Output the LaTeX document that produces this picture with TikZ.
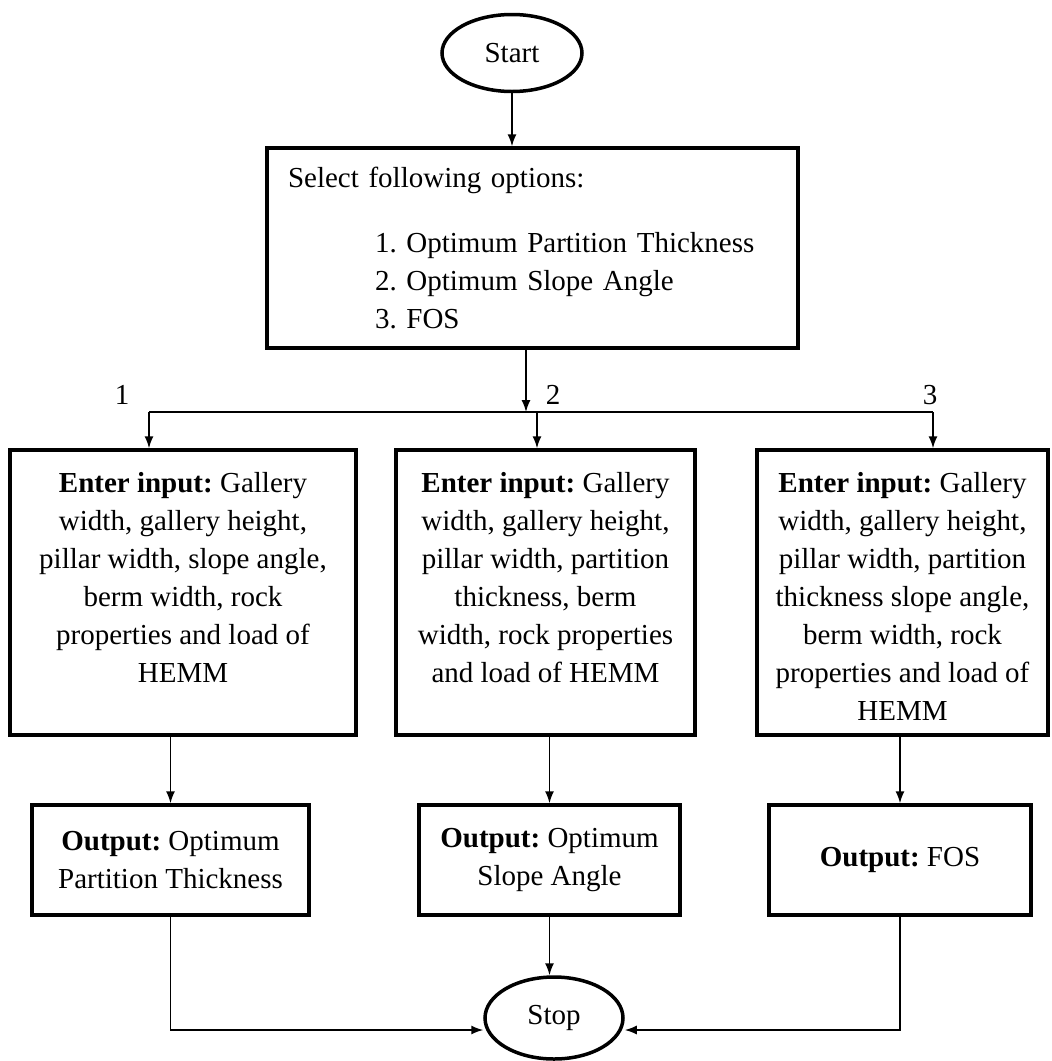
\documentclass[tikz,border=0pt]{standalone}
\usepackage{fontspec}
\setmainfont{Liberation Serif}
\usetikzlibrary{shapes.geometric,arrows.meta}
\newcommand{\boxtext}[2]{\parbox[c][241pt][t]{#1}{\centering #2}}
\frenchspacing
\begin{document}
\begin{tikzpicture}[x=1pt,y=-1pt]
	\tikzset{n/.style={draw=black, ellipse, line width=3.5pt, minimum width=140pt, minimum height=77pt, inner sep=0pt},
		b/.style={draw=black, rectangle, line width=3.5pt, inner sep=0pt},
		f/.style={-{Latex[length=12pt,width=9pt]}, line width=1.5pt},
		every node/.style={font=\fontsize{29}{38}\selectfont}};
	\useasboundingbox (0,0) rectangle (1052,1061);

	\node[n] (start) at (512,53) {Start};
	\node[b, minimum width=531pt, minimum height=200pt, text width=489pt, inner xsep=21pt, align=left] (sel) at (532.5,248)
		{Select following options:\\[27pt]
		\hspace*{87pt}1. Optimum Partition Thickness\\
		\hspace*{87pt}2. Optimum Slope Angle\\
		\hspace*{87pt}3. FOS};

	\node (l1) at (122,395) {1};
	\node (l2) at (553,395) {2};
	\node (l3) at (930,395) {3};

	\node[b, minimum width=346pt, minimum height=285pt] (in1) at (183,592.5)
		{\boxtext{336pt}{\textbf{Enter input:} Gallery\\ width, gallery height,\\ pillar width, slope angle,\\ berm width, rock\\ properties and load of\\ HEMM}};
	\node[b, minimum width=299pt, minimum height=285pt] (in2) at (545.5,592.5)
		{\boxtext{289pt}{\textbf{Enter input:} Gallery\\ width, gallery height,\\ pillar width, partition\\ thickness, berm\\ width, rock properties\\ and load of HEMM}};
	\node[b, minimum width=291pt, minimum height=285pt] (in3) at (902.5,592.5)
		{\boxtext{281pt}{\textbf{Enter input:} Gallery\\ width, gallery height,\\ pillar width, partition\\ thickness slope angle,\\ berm width, rock\\ properties and load of\\ HEMM}};

	\node[b, minimum width=277pt, minimum height=110pt, align=center] (out1) at (170.5,860) {\textbf{Output:} Optimum\\ Partition Thickness};
	\node[b, minimum width=261pt, minimum height=110pt, align=center] (out2) at (549.5,860) {\textbf{Output:} Optimum\\ Slope Angle};
	\node[b, minimum width=262pt, minimum height=110pt, align=center] (out3) at (900,860) {\textbf{Output:} FOS};

	\node[n, minimum width=138pt, minimum height=82pt] (stop) at (554,1018) {Stop};

	\coordinate (split) at (526,412);
	\coordinate (b1) at (149,412);
	\coordinate (b2) at (537,412);
	\coordinate (b3) at (933,412);
	\coordinate (low) at (0,1030);

	\draw[f] (start) -- (start |- sel.north);
	\draw[f] (sel.south -| split) -- (split);
	\draw[line width=1.5pt] (b1) -- (b3);
	\draw[f] (b1) -- (b1 |- in1.north);
	\draw[f] (b2) -- (b2 |- in2.north);
	\draw[f] (b3) -- (b3 |- in3.north);

	\draw[f] (in1.south -| out1.north) -- (out1.north);
	\draw[f] (in2.south -| out2.north) -- (out2.north);
	\draw[f] (in3.south -| out3.north) -- (out3.north);

	\draw[f] (out1.south) |- (low -| stop.west);
	\draw[f] (out2.south) -- (out2.south |- stop.north);
	\draw[f] (out3.south) |- (low -| stop.east);
\end{tikzpicture}
\end{document}
